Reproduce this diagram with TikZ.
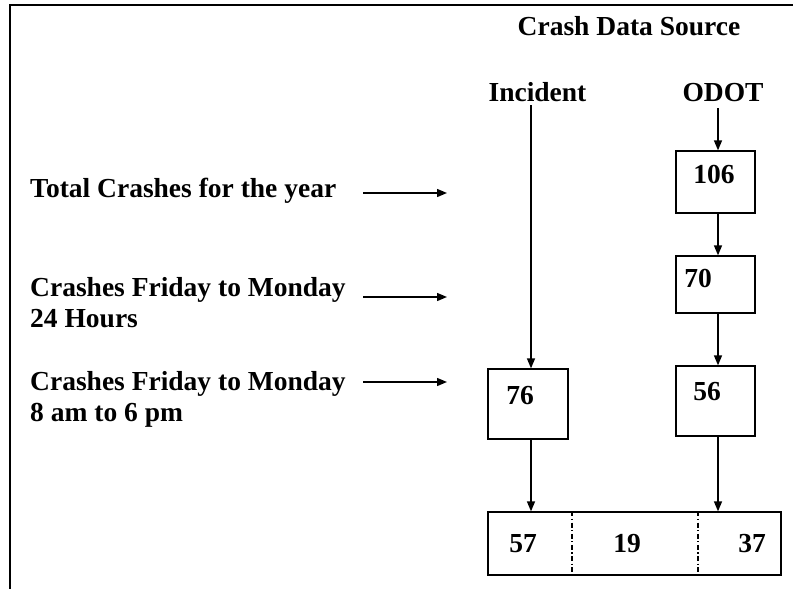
\documentclass[tikz,border=0pt]{standalone}
\usepackage{fontspec}
\setmainfont{Liberation Serif}
\usetikzlibrary{arrows.meta}
\begin{document}
\begin{tikzpicture}[x=1pt,y=-1pt,
  lbl/.style={font=\fontsize{27.5}{31}\selectfont\bfseries, inner sep=0pt},
  box/.style={draw, line width=1.3pt, inner sep=0pt},
  arr/.style={line width=1.4pt, -{Triangle[length=10pt,width=8pt]}},
  divline/.style={line width=1.4pt, dash pattern=on 5pt off 2.5pt on 1.2pt off 2.5pt},
  ]
\useasboundingbox (0,0) rectangle (793,589);
\draw[line width=2.5pt] (10,589) -- (10,5) -- (793,5);

% headers
\node[lbl, anchor=base] (title) at (629,35) {Crash Data Source};
\node[lbl, anchor=base] (incident) at (537.5,101) {Incident};
\node[lbl, anchor=base] (odot) at (723,101) {ODOT};

% left labels
\node[lbl, anchor=base west] (t1) at (30,197) {Total Crashes for the year};
\node[lbl, anchor=north west, align=left] (t2) at (30,277) {Crashes Friday to Monday\\24 Hours};
\node[lbl, anchor=north west, align=left] (t3) at (30,371) {Crashes Friday to Monday\\8 am to 6 pm};

% left arrows
\coordinate (a1s) at (363,193); \coordinate (a1e) at (447,193);
\coordinate (a2s) at (363,297); \coordinate (a2e) at (447,297);
\coordinate (a3s) at (363,382); \coordinate (a3e) at (447,382);
\draw[arr] (a1s) -- (a1e);
\draw[arr] (a2s) -- (a2e);
\draw[arr] (a3s) -- (a3e);

% boxes
\node[box, minimum width=79pt, minimum height=62pt] (b106) at (715.5,182) {};
\node[box, minimum width=79pt, minimum height=57pt] (b70) at (715.5,284.5) {};
\node[box, minimum width=79pt, minimum height=70pt] (b56) at (715.5,401) {};
\node[box, minimum width=80pt, minimum height=70pt] (b76) at (528,404) {};
\node[box, minimum width=293pt, minimum height=63pt] (bot) at (634.5,543.5) {};

% numbers
\node[lbl, anchor=base] (n106) at (714,183) {106};
\node[lbl, anchor=base] (n70) at (698,287) {70};
\node[lbl, anchor=base] (n56) at (707,400) {56};
\node[lbl, anchor=base] (n76) at (520,404) {76};
\node[lbl, anchor=base] (n57) at (523,552) {57};
\node[lbl, anchor=base] (n19) at (627,552) {19};
\node[lbl, anchor=base] (n37) at (752,552) {37};

% dividers
\coordinate (d1) at (572,0);
\coordinate (d2) at (698,0);
\draw[divline] (bot.north -| d1) -- (bot.south -| d1);
\draw[divline] (bot.north -| d2) -- (bot.south -| d2);

% vertical flow
\coordinate (inc) at (531,105);
\coordinate (od) at (718,108);
\draw[arr] (inc) -- (inc |- b76.north);
\draw[arr] (od) -- (od |- b106.north);
\draw[arr] (b106.south -| od) -- (b70.north -| od);
\draw[arr] (b70.south -| od) -- (b56.north -| od);
\draw[arr] (b76.south -| inc) -- (bot.north -| inc);
\draw[arr] (b56.south -| od) -- (bot.north -| od);
\end{tikzpicture}
\end{document}
